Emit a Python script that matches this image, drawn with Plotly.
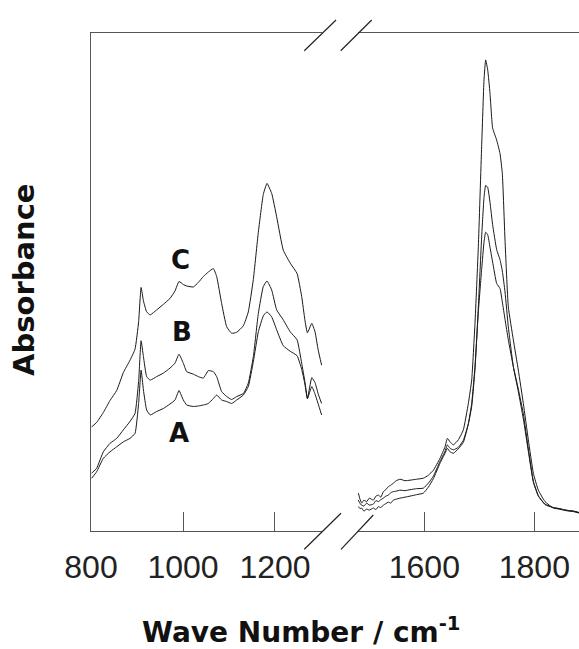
import plotly.graph_objects as go

# ---------------- data ----------------
# Left segment (800-1300 cm-1)
wn_low = [801.4, 812.3, 826.8, 841.3, 855.8, 870.3, 884.8, 895.7, 903.5, 908.9, 914.0, 921.0,
          928.8, 942.8, 957.2, 971.7, 982.6, 991.3, 1000.7, 1008.0, 1022.5, 1033.3, 1044.2,
          1055.0, 1066.0, 1073.2, 1084.0, 1095.0, 1105.8, 1116.7, 1131.2, 1142.0, 1152.9,
          1163.8, 1174.6, 1182.6, 1192.8, 1203.6, 1218.0, 1233.0, 1248.0, 1258.0, 1265.0,
          1270.5, 1280.0, 1287.0, 1294.0, 1301.4]
abs_C_low = [0.209, 0.218, 0.238, 0.262, 0.282, 0.318, 0.343, 0.365, 0.420, 0.489, 0.462, 0.440,
             0.434, 0.444, 0.455, 0.467, 0.482, 0.501, 0.495, 0.492, 0.490, 0.499, 0.511,
             0.520, 0.527, 0.511, 0.457, 0.410, 0.397, 0.399, 0.412, 0.440, 0.505,
             0.600, 0.676, 0.698, 0.678, 0.631, 0.564, 0.538, 0.517, 0.471, 0.424,
             0.398, 0.417, 0.400, 0.363, 0.333]
abs_B_low = [0.116, 0.126, 0.159, 0.176, 0.186, 0.203, 0.220, 0.236, 0.300, 0.382, 0.350, 0.310,
             0.303, 0.310, 0.317, 0.327, 0.337, 0.355, 0.337, 0.320, 0.315, 0.310, 0.307,
             0.322, 0.320, 0.310, 0.280, 0.270, 0.264, 0.270, 0.276, 0.297, 0.350,
             0.437, 0.491, 0.502, 0.484, 0.444, 0.424, 0.400, 0.384, 0.337, 0.300,
             0.266, 0.308, 0.298, 0.275, 0.256]
abs_A_low = [0.106, 0.119, 0.146, 0.159, 0.169, 0.179, 0.186, 0.196, 0.256, 0.323, 0.283, 0.243,
             0.233, 0.240, 0.246, 0.255, 0.263, 0.282, 0.263, 0.253, 0.250, 0.251, 0.253,
             0.256, 0.266, 0.273, 0.263, 0.260, 0.256, 0.263, 0.273, 0.290, 0.340,
             0.400, 0.432, 0.440, 0.430, 0.404, 0.372, 0.361, 0.352, 0.325, 0.295,
             0.266, 0.290, 0.275, 0.255, 0.233]

# Right segment (1480-1880 cm-1)
wn_high = [1480.0, 1483.0, 1486.1, 1490.0, 1495.2, 1500.0, 1507.3, 1512.0, 1516.4, 1521.0,
           1525.5, 1530.0, 1534.5, 1539.0, 1543.6, 1549.0, 1555.8, 1565.0, 1573.9, 1586.0,
           1598.2, 1607.3, 1616.4, 1628.5, 1637.6, 1641.8, 1646.7, 1652.7, 1661.8, 1670.9,
           1680.0, 1686.1, 1692.1, 1698.2, 1704.2, 1708.5, 1711.5, 1715.2, 1719.4, 1724.2,
           1731.5, 1737.6, 1741.8, 1746.7, 1752.7, 1761.8, 1770.9, 1780.0, 1789.1, 1798.2,
           1807.3, 1819.4, 1834.5, 1845.0, 1852.7, 1862.0, 1870.9, 1881.2]
abs_C_high = [0.076, 0.064, 0.056, 0.062, 0.059, 0.066, 0.062, 0.070, 0.072, 0.068,
              0.079, 0.083, 0.089, 0.092, 0.096, 0.101, 0.104, 0.101, 0.102, 0.104,
              0.106, 0.112, 0.122, 0.146, 0.169, 0.186, 0.179, 0.173, 0.183, 0.203,
              0.256, 0.303, 0.417, 0.571, 0.772, 0.906, 0.946, 0.926, 0.879, 0.809,
              0.785, 0.758, 0.718, 0.584, 0.450, 0.384, 0.323, 0.256, 0.183, 0.116,
              0.082, 0.059, 0.046, 0.044, 0.042, 0.040, 0.039, 0.036]
abs_B_high = [0.062, 0.055, 0.052, 0.050, 0.056, 0.052, 0.054, 0.061, 0.059, 0.063,
              0.066, 0.070, 0.072, 0.077, 0.079, 0.080, 0.082, 0.081, 0.083, 0.085,
              0.086, 0.096, 0.110, 0.140, 0.160, 0.173, 0.166, 0.163, 0.168, 0.182,
              0.215, 0.250, 0.325, 0.450, 0.590, 0.670, 0.694, 0.690, 0.660, 0.615,
              0.565, 0.545, 0.522, 0.480, 0.410, 0.330, 0.280, 0.225, 0.160, 0.098,
              0.070, 0.054, 0.047, 0.045, 0.043, 0.041, 0.040, 0.037]
abs_A_high = [0.049, 0.045, 0.046, 0.040, 0.044, 0.042, 0.046, 0.043, 0.049, 0.047,
              0.052, 0.055, 0.058, 0.056, 0.062, 0.064, 0.066, 0.068, 0.070, 0.073,
              0.076, 0.088, 0.105, 0.136, 0.156, 0.166, 0.159, 0.156, 0.165, 0.178,
              0.215, 0.256, 0.330, 0.440, 0.525, 0.580, 0.600, 0.595, 0.570, 0.540,
              0.497, 0.487, 0.460, 0.425, 0.384, 0.330, 0.285, 0.235, 0.165, 0.100,
              0.071, 0.053, 0.047, 0.045, 0.043, 0.041, 0.040, 0.037]

series_names = ["A", "B", "C"]
label_x = [991, 998.6, 995]
label_y = [0.197, 0.400, 0.545]

x_low_ticks = [800, 1000, 1200]
x_high_ticks = [1600, 1800]

# ---------------- figure ----------------
W, H = 579, 649
ML, MR, MT, MB = 91, 0, 33, 118
PW = W - ML - MR
PH = H - MT - MB

def px2paper_x(px):
    return (px - ML) / PW

def px2paper_y(py):
    return (H - MB - py) / PH

line_color = "#1a1a1a"
axis_color = "#555555"

fig = go.Figure()
for name, yl, yh in zip(series_names, [abs_A_low, abs_B_low, abs_C_low],
                        [abs_A_high, abs_B_high, abs_C_high]):
    fig.add_trace(go.Scatter(x=wn_low, y=yl, mode="lines", name=name, xaxis="x", yaxis="y",
                             line=dict(color=line_color, width=1, shape="spline", smoothing=0.4),
                             showlegend=False))
    fig.add_trace(go.Scatter(x=wn_high, y=yh, mode="lines", name=name, xaxis="x2", yaxis="y",
                             line=dict(color=line_color, width=1, shape="spline", smoothing=0.4),
                             showlegend=False))

tick_font = dict(family="Liberation Sans, Arial, sans-serif", size=32, color="#222222")
common_x = dict(showline=True, linecolor=axis_color, linewidth=1, mirror=True,
                ticks="inside", ticklen=19, tickcolor=axis_color, tickwidth=1,
                ticklabelstandoff=8,
                showgrid=False, zeroline=False, tickfont=tick_font, anchor="y")

fig.update_layout(
    width=W, height=H,
    margin=dict(l=ML, r=MR, t=MT, b=MB),
    paper_bgcolor="white", plot_bgcolor="white",
    xaxis=dict(domain=[0, px2paper_x(322)], range=[800, 1302.2],
               tickvals=x_low_ticks, ticktext=[str(v) for v in x_low_ticks], **common_x),
    xaxis2=dict(domain=[px2paper_x(357.5), 1], range=[1478.5, 1881.2],
                tickvals=x_high_ticks, ticktext=[str(v) for v in x_high_ticks], **common_x),
    yaxis=dict(range=[0, 1], showline=True, linecolor=axis_color, linewidth=1,
               showticklabels=False, ticks="", showgrid=False, zeroline=False),
)

# series labels
for name, lx, ly in zip(series_names, label_x, label_y):
    fig.add_annotation(x=lx, y=ly, xref="x", yref="y", text="<b>%s</b>" % name,
                       showarrow=False, xanchor="center", yanchor="middle",
                       font=dict(family="DejaVu Sans, sans-serif", size=26, color="#111111"))

# axis titles
fig.add_annotation(x=px2paper_x(24), y=px2paper_y(280), xref="paper", yref="paper",
                   text="<b>Absorbance</b>", textangle=-90, showarrow=False,
                   xanchor="center", yanchor="middle",
                   font=dict(family="DejaVu Sans, sans-serif", size=29, color="#111111"))
fig.add_annotation(x=px2paper_x(301), y=px2paper_y(651), xref="paper", yref="paper",
                   text="<b>Wave Number / cm<sup>-1</sup></b>", showarrow=False,
                   xanchor="center", yanchor="bottom",
                   font=dict(family="DejaVu Sans, sans-serif", size=28, color="#111111"))

# axis-break marks
break_lines = [((304.3, 50.7), (336.0, 20.0)), ((340.7, 50.7), (371.7, 20.0)),
               ((304.3, 549.3), (341.0, 513.3)), ((341.0, 549.3), (373.3, 515.0))]
for (x0, y0), (x1, y1) in break_lines:
    fig.add_shape(type="line", xref="paper", yref="paper",
                  x0=px2paper_x(x0), y0=px2paper_y(y0), x1=px2paper_x(x1), y1=px2paper_y(y1),
                  line=dict(color="#222222", width=1.2))

fig.write_html("out.html", config={"displayModeBar": False},
               post_script="document.body.style.margin='0';")
